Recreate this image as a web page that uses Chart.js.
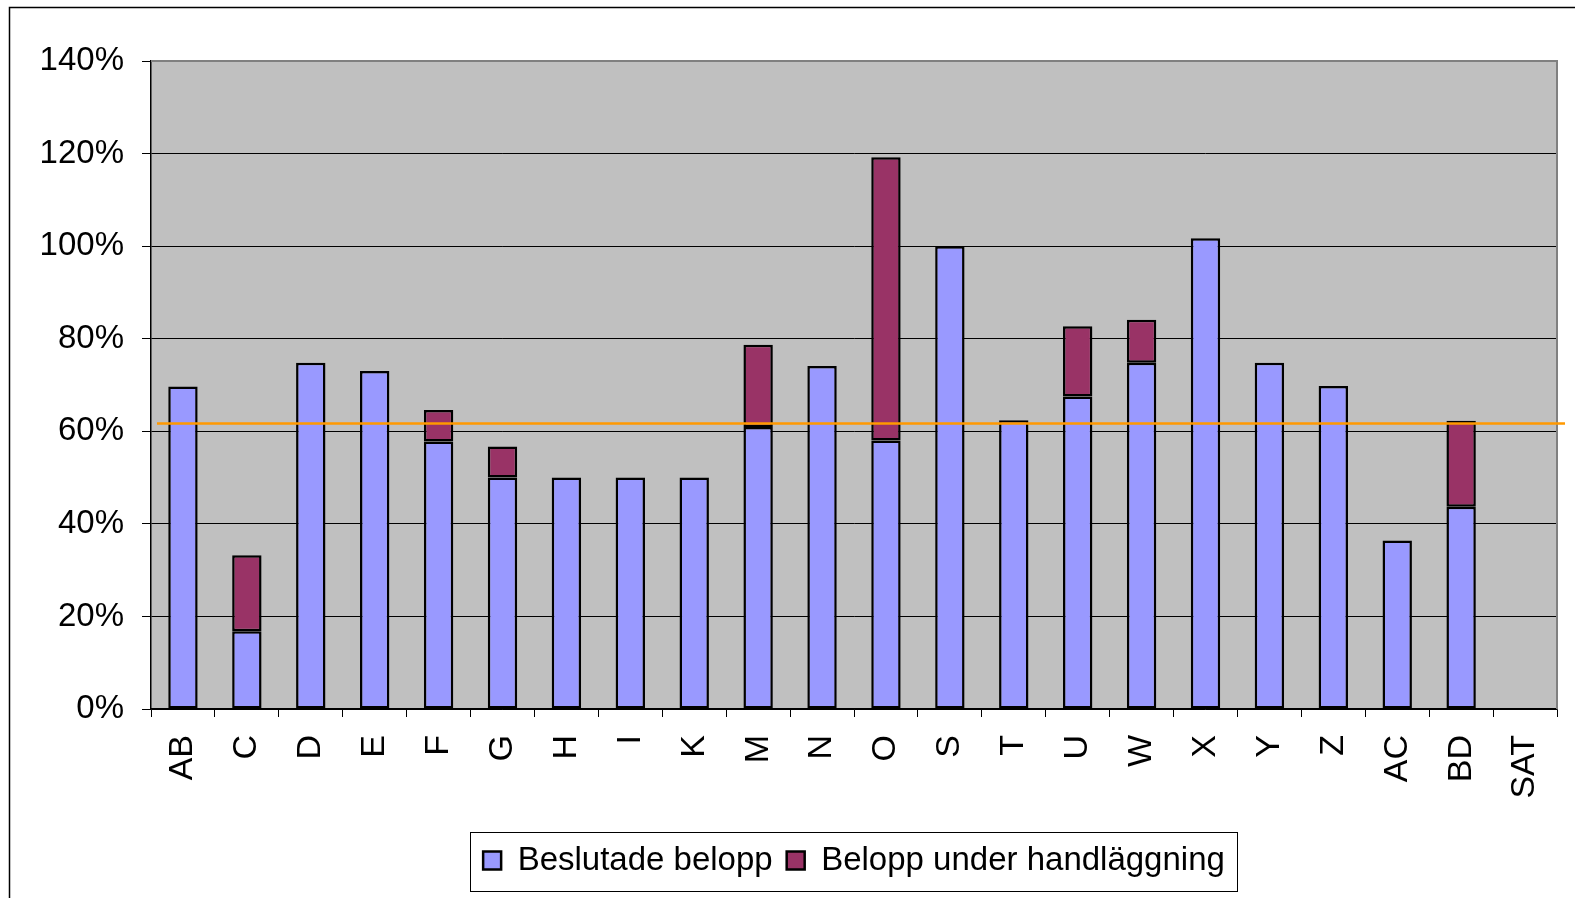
<!DOCTYPE html>
<html>
<head>
<meta charset="utf-8">
<script src="https://cdn.jsdelivr.net/npm/chart.js@4/dist/chart.umd.min.js"></script>
<style>
  html, body { margin: 0; padding: 0; background: #fff; }
  #chart-container { width: 1575px; height: 898px; position: relative; }
</style>
</head>
<body>
<div id="chart-container"><canvas id="myChart"></canvas></div>
<script>
const categories = ["AB", "C", "D", "E", "F", "G", "H", "I", "K", "M", "N", "O", "S", "T", "U", "W", "X", "Y", "Z", "AC", "BD", "SAT"];
const beslutade = [69.7, 16.8, 74.8, 73, 57.8, 50, 50, 50, 50, 60.9, 74.1, 58, 100, 62.4, 67.5, 74.8, 101.7, 74.8, 69.8, 36.4, 43.7, null];
const underHandlaggning = [null, 16.4, null, null, 6.8, 6.7, null, null, null, 17.8, null, 61.2, null, null, 15.2, 9.3, null, null, null, null, 18.6, null];
const yTicks = [0, 20, 40, 60, 80, 100, 120, 140];
const target = 61.7;

const font = "'Liberation Sans', Arial, sans-serif";

// grey plot area, frame and legend box
const decor = {
    id: 'decor',
    beforeDraw(chart) {
        const ctx = chart.ctx;
        const a = chart.chartArea;
        ctx.save();
        ctx.fillStyle = '#fff';
        ctx.fillRect(0, 0, chart.width, chart.height);
        ctx.strokeStyle = '#000';
        ctx.lineWidth = 1.5;
        ctx.strokeRect(9.5, 7.5, chart.width + 20, chart.height + 20);
        ctx.fillStyle = '#C0C0C0';
        ctx.fillRect(a.left, a.top, a.right - a.left, a.bottom - a.top);
        ctx.restore();
    },
    afterDatasetsDraw(chart) {
        const ctx = chart.ctx;
        const a = chart.chartArea;
        const y = chart.scales.y.getPixelForValue(target);
        ctx.save();
        ctx.strokeStyle = '#808080';
        ctx.lineWidth = 2;
        ctx.beginPath();
        ctx.moveTo(a.left, a.top);
        ctx.lineTo(a.right, a.top);
        ctx.lineTo(a.right, a.bottom);
        ctx.stroke();
        ctx.strokeStyle = '#FF9900';
        ctx.lineWidth = 2.5;
        ctx.beginPath();
        ctx.moveTo(a.left + 6, y);
        ctx.lineTo(a.right + 8, y);
        ctx.stroke();
        ctx.restore();
    },
    afterDraw(chart) {
        const boxes = chart.legend.legendHitBoxes;
        if (!boxes || !boxes.length) return;
        const ctx = chart.ctx;
        const left = Math.min(...boxes.map(b => b.left)) - 13;
        const right = Math.max(...boxes.map(b => b.left + b.width)) + 12;
        const mid = boxes[0].top + boxes[0].height / 2;
        ctx.save();
        ctx.strokeStyle = '#000';
        ctx.lineWidth = 1;
        ctx.strokeRect(Math.round(left) + 0.5, Math.round(mid - 29) + 0.5, Math.round(right - left), 59);
        ctx.restore();
    }
};

const data = {
    labels: categories,
    datasets: [{
        label: 'Beslutade belopp',
        data: beslutade,
        backgroundColor: '#9999FF',
        borderColor: '#000',
        borderWidth: 2.5,
        borderSkipped: false
    }, {
        label: 'Belopp under handläggning',
        data: underHandlaggning,
        backgroundColor: '#993366',
        borderColor: '#000',
        borderWidth: 2.5,
        borderSkipped: false
    }]
};

const config = {
    type: 'bar',
    data: data,
    plugins: [decor],
    options: {
        responsive: true,
        maintainAspectRatio: false,
        animation: false,
        datasets: {
            bar: { categoryPercentage: 1, barPercentage: 0.46 }
        },
        layout: {
            padding: { left: 0, right: 18, top: 61, bottom: 11 }
        },
        scales: {
            x: {
                stacked: true,
                offset: true,
                grid: {
                    offset: true,
                    drawOnChartArea: false,
                    drawTicks: true,
                    tickLength: 8,
                    color: '#000'
                },
                border: { color: '#000', width: 1.5 },
                ticks: {
                    autoSkip: false,
                    minRotation: 90,
                    maxRotation: 90,
                    padding: 18,
                    color: '#000',
                    font: { family: font, size: 34 }
                },
                afterFit(scale) {
                    scale.height = 121;
                    scale.paddingLeft = 0;
                    scale.paddingRight = 0;
                }
            },
            y: {
                stacked: true,
                min: 0,
                max: 140,
                afterBuildTicks(scale) { scale.ticks = yTicks.map(v => ({ value: v })); },
                grid: {
                    color: '#000',
                    lineWidth: 1,
                    tickLength: 9
                },
                border: { color: '#000', width: 1.5 },
                ticks: {
                    padding: 18,
                    color: '#000',
                    font: { family: font, size: 33 },
                    callback: v => v + '%'
                },
                afterFit(scale) { scale.width = 151; }
            }
        },
        plugins: {
            legend: {
                position: 'bottom',
                fullSize: false,
                labels: {
                    boxWidth: 18,
                    boxHeight: 18,
                    padding: 14,
                    color: '#000',
                    font: { family: font, size: 33 }
                }
            },
            tooltip: { enabled: false }
        }
    }
};

const myChart = new Chart(document.getElementById('myChart'), config);
</script>
</body>
</html>
